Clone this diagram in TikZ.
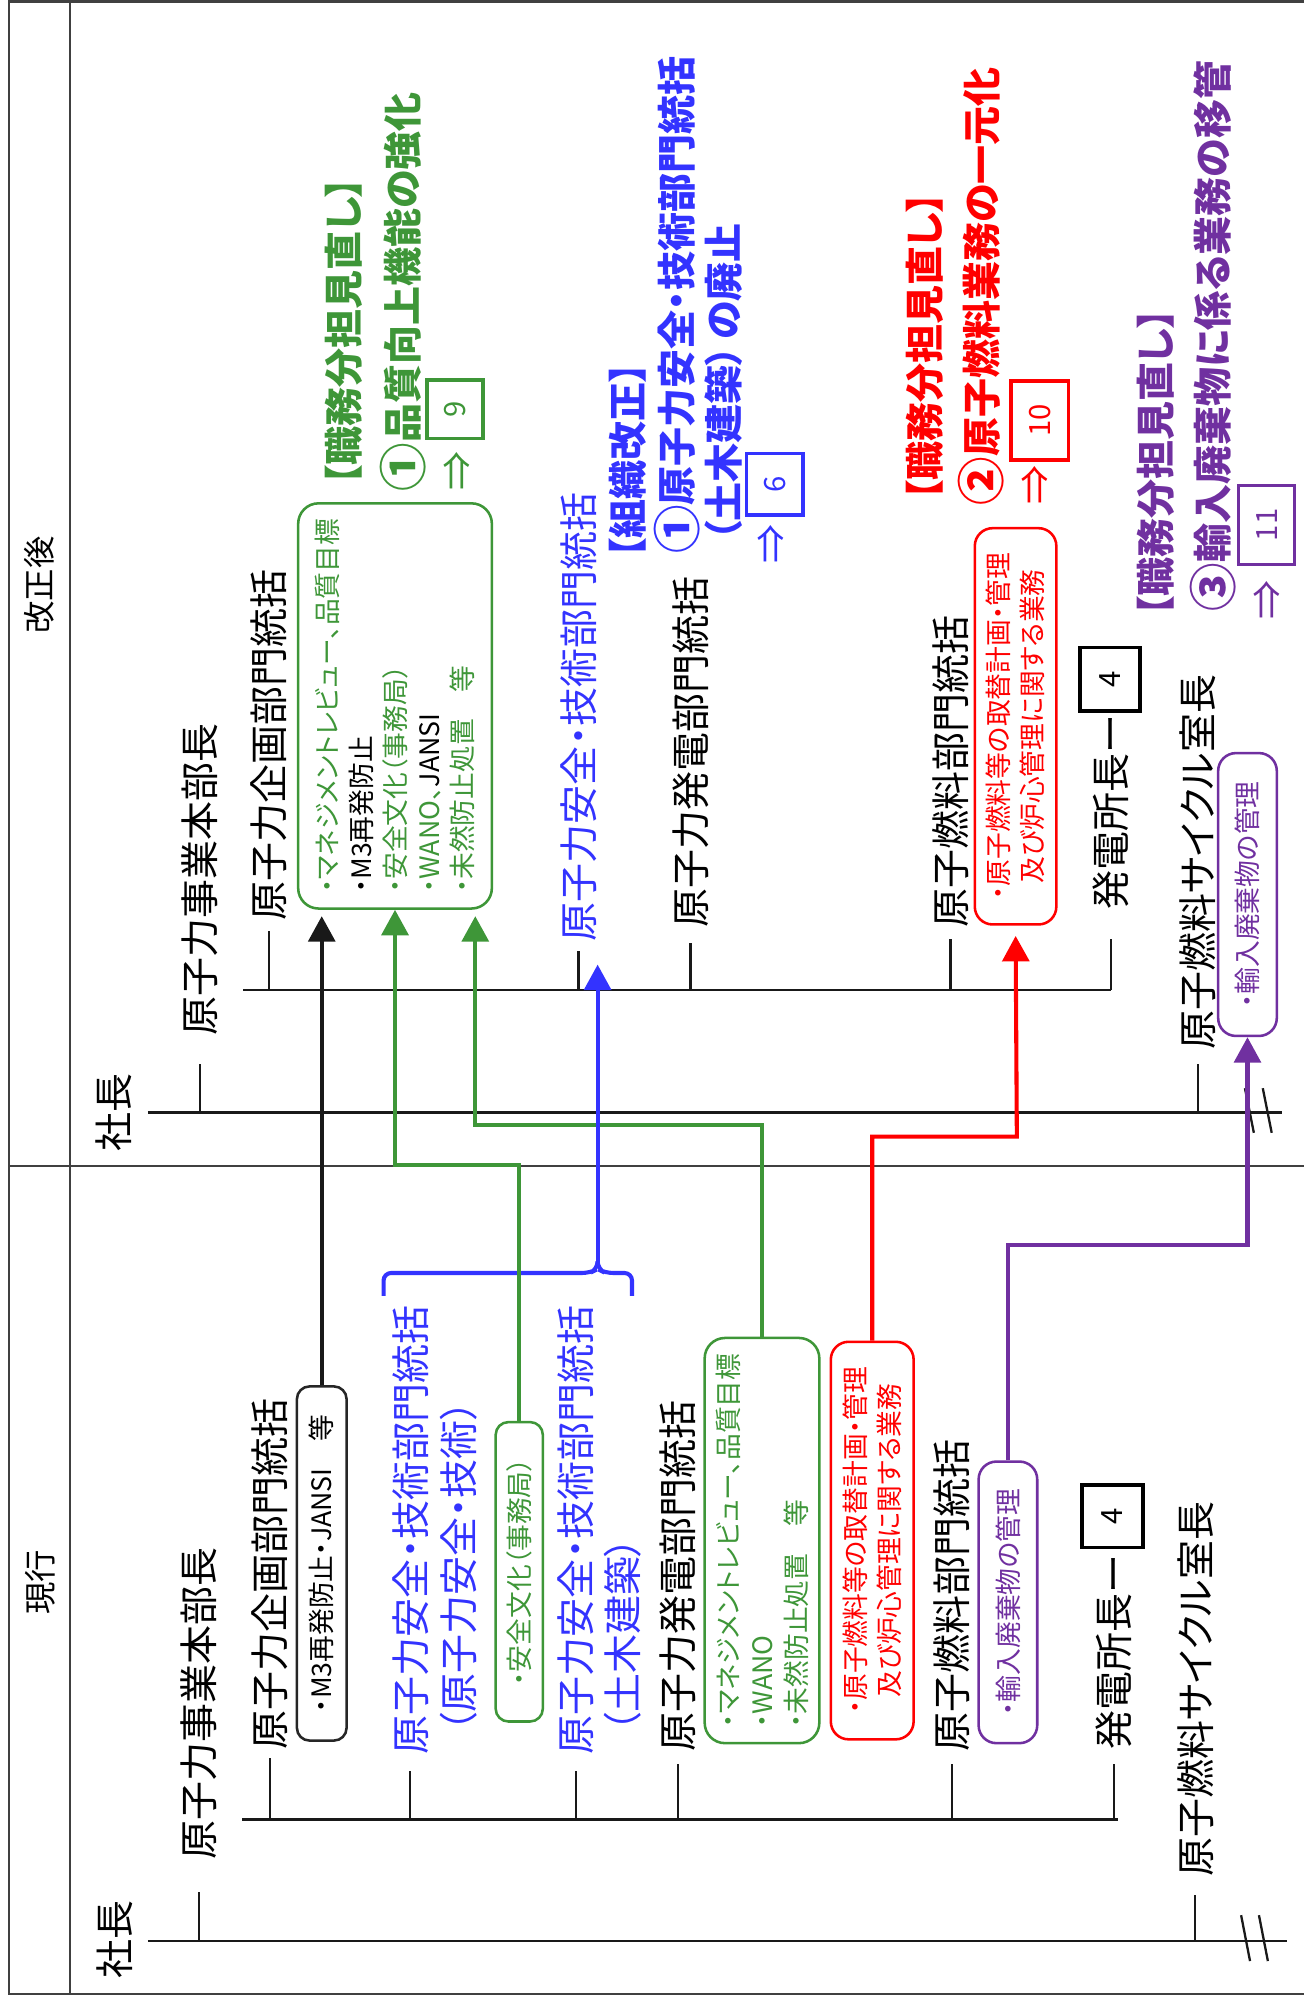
\documentclass[tikz,border=0pt]{standalone}
\usepackage{fontspec}
\setmainfont{Noto Sans CJK JP}[RawFeature=+palt]
\usetikzlibrary{arrows.meta, positioning}
\definecolor{qgreen}{RGB}{62,150,56}
\definecolor{techblue}{RGB}{51,51,255}
\definecolor{fuelred}{RGB}{255,0,0}
\definecolor{wastepurple}{RGB}{112,48,160}
\newcommand{\bignum}[1]{\raisebox{-1.4pt}{\fontsize{19}{18}\selectfont #1}}

\begin{document}
\begin{tikzpicture}[
x=0.5pt, y=-0.5pt,
frame/.style={draw=black!75, line width=1pt},
org/.style={draw=black!90, line width=0.9pt},
hdr/.style={rotate=90, inner sep=0pt, font=\fontsize{12.7}{15}\selectfont},
lbl/.style={rotate=90, anchor=west, inner sep=0pt, font=\fontsize{15.3}{18}\selectfont},
note/.style={rotate=90, anchor=west, inner sep=0pt, font=\fontsize{15.3}{18}\selectfont\bfseries},
dutybox/.style={rotate=90, draw, line width=1pt, rounded corners=7pt, inner sep=0pt,
    align=left, font=\fontsize{10.5}{13.3}\selectfont},
numbox/.style={rotate=90, draw, line width=1.4pt, inner sep=0pt, font=\fontsize{11.5}{13}\selectfont},
arrowmark/.style={rotate=90, inner sep=0pt, font=\fontsize{15.3}{18}\selectfont},
move/.style={line width=1.6pt, -{Triangle[length=10pt,width=10.5pt]}},
]
\useasboundingbox (0,0) rectangle (1023,1568);
% frame
\draw[frame] (1023,1) -- (7,1) -- (7,1565) -- (1023,1565);
\draw[frame] (7,915) -- (1023,915);
\draw[frame] (55,1) -- (55,1565);
\node[hdr] (hdrNew) at (31,459) {改正後};
\node[hdr] (hdrOld) at (32,1242) {現行};

% after the change
\coordinate (trunkNew) at (116,873);
\coordinate (endNew) at (1006,873);
\coordinate (busNew) at (191,777);
\node[lbl, anchor=center] (presNew) at (89,873) {社長};
\node[lbl] (chiefNew) at (157,813) {原子力事業本部長};
\node[lbl] (planNew) at (211,723) {原子力企画部門統括};
\node[lbl, text=techblue] (safeNew) at (454,739) {原子力安全・技術部門統括};
\node[lbl] (powerNew) at (542,728) {原子力発電部門統括};
\node[lbl] (fuelDeptNew) at (746,728) {原子燃料部門統括};
\node[lbl] (plantNew) at (872,714) {発電所長ー};
\node[numbox, minimum width=25pt, minimum height=23.5pt] (fourNew) at (871,533) {4};
\node[lbl] (cycleNew) at (940,824) {原子燃料サイクル室長};
\draw[org] (trunkNew) -- (endNew);
\draw[org] (busNew) -- (plantNew.west |- busNew);
\draw[org] (chiefNew.west |- trunkNew) -- +(0,-38);
\draw[org] (planNew.west |- busNew) -- +(0,-46);
\draw[org] (safeNew.west |- busNew) -- +(0,-31);
\draw[org] (powerNew.west |- busNew) -- +(0,-37);
\draw[org] (fuelDeptNew.west |- busNew) -- +(0,-40);
\draw[org] (plantNew.west |- busNew) -- +(0,-40);
\draw[org] (cycleNew.west |- trunkNew) -- +(0,-38);
\draw[org] (977,854) -- (984,889);
\draw[org] (991,854) -- (998,889);

\node[dutybox, draw=qgreen, rounded corners=8pt, minimum width=159pt, minimum height=76pt]
    (qaNew) at (310,554)
    {\textcolor{qgreen}{・マネジメントレビュー、品質目標}\\
     ・M3再発防止\\
     \textcolor{qgreen}{・安全文化（事務局）}\\
     \textcolor{qgreen}{・WANO、}JANSI\\
     \textcolor{qgreen}{・未然防止処置　等}};
\node[dutybox, draw=fuelred, text=fuelred, align=center, minimum width=155.5pt, minimum height=32pt]
    (fuelNew) at (797,570) {・原子燃料等の取替計画・管理\\及び炉心管理に関する業務};
\node[dutybox, draw=wastepurple, text=wastepurple, minimum width=111pt, minimum height=23pt]
    (wasteNew) at (979,702) {・輸入廃棄物の管理};

% notes
\node[note, text=qgreen] (qaHead) at (270,381) {【職務分担見直し】};
\node[note, text=qgreen] (qaItem) at (316,386) {\bignum{①}品質向上機能の強化};
\node[arrowmark, text=qgreen] (qaArrow) at (359,370) {⇒};
\node[numbox, draw=qgreen, text=qgreen, minimum width=23pt, minimum height=22pt] (qaRef) at (357,321) {9};
\node[note, text=techblue] (orgHead) at (493,438) {【組織改正】};
\node[note, text=techblue] (orgItem) at (531,435) {\bignum{①}原子力安全・技術部門統括};
\node[note, text=techblue] (orgItemB) at (568,425) {（土木建築）\,の廃止};
\node[arrowmark, text=techblue] (orgArrow) at (606,427) {⇒};
\node[numbox, draw=techblue, text=techblue, minimum width=24pt, minimum height=22pt] (orgRef) at (608,380) {6};
\node[note, text=fuelred] (fuelHead) at (726,393) {【職務分担見直し】};
\node[note, text=fuelred] (fuelItem) at (770,397) {\bignum{②}原子燃料業務の一元化};
\node[arrowmark, text=fuelred] (fuelArrow) at (813,381) {⇒};
\node[numbox, draw=fuelred, text=fuelred, minimum width=31pt, minimum height=22.5pt] (fuelRef) at (816,330) {10};
\node[note, text=wastepurple] (wasteHead) at (907,484) {【職務分担見直し】};
\node[note, text=wastepurple] (wasteItem) at (952,480) {\bignum{③}輸入廃棄物に係る業務の移管};
\node[arrowmark, text=wastepurple] (wasteArrow) at (995,471) {⇒};
\node[numbox, draw=wastepurple, text=wastepurple, minimum width=31pt, minimum height=22pt] (wasteRef) at (994,412) {11};

% current
\coordinate (trunkOld) at (116,1523);
\coordinate (endOld) at (1010,1523);
\coordinate (busOld) at (190,1428);
\node[lbl, anchor=center] (presOld) at (90,1522) {社長};
\node[lbl] (chiefOld) at (156,1460) {原子力事業本部長};
\node[lbl] (planOld) at (212,1373) {原子力企画部門統括};
\node[lbl, text=techblue] (safeOld) at (322,1377) {原子力安全・技術部門統括};
\node[lbl, text=techblue] (safeOldB) at (360,1360) {（原子力安全・技術）};
\node[lbl, text=techblue] (civilOld) at (452,1377) {原子力安全・技術部門統括};
\node[lbl, text=techblue] (civilOldB) at (489,1360) {（土木建築）};
\node[lbl] (powerOld) at (532,1375) {原子力発電部門統括};
\node[lbl] (fuelDeptOld) at (747,1375) {原子燃料部門統括};
\node[lbl] (plantOld) at (874,1373) {発電所長ー};
\node[numbox, minimum width=24.5pt, minimum height=24pt] (fourOld) at (873,1190) {4};
\node[lbl] (cycleOld) at (938,1473) {原子燃料サイクル室長};
\draw[org] (trunkOld) -- (endOld);
\draw[org] (busOld) -- (877,1428);
\draw[org] (chiefOld.west |- trunkOld) -- +(0,-38);
\draw[org] (planOld.west |- busOld) -- +(0,-48);
\draw[org] (safeOld.west |- busOld) -- +(0,-38);
\draw[org] (civilOld.west |- busOld) -- +(0,-38);
\draw[org] (powerOld.west |- busOld) -- +(0,-44);
\draw[org] (fuelDeptOld.west |- busOld) -- +(0,-44);
\draw[org] (plantOld.west |- busOld) -- +(0,-44);
\draw[org] (cycleOld.west |- trunkOld) -- +(0,-36);
\draw[org] (974,1503) -- (981,1539);
\draw[org] (988,1503) -- (995,1539);

\node[dutybox, draw=black!85, rounded corners=5pt, minimum width=139pt, minimum height=19.5pt]
    (jansiOld) at (252.5,1227) {・M3再発防止・JANSI　等};
\node[dutybox, draw=qgreen, text=qgreen, rounded corners=5pt, minimum width=117.5pt, minimum height=18.5pt]
    (cultOld) at (407.5,1233.5) {・安全文化（事務局）};
\node[dutybox, draw=qgreen, text=qgreen, rounded corners=8pt, minimum width=159pt, minimum height=45pt]
    (qaOld) at (598,1209) {・マネジメントレビュー、品質目標\\・WANO\\・未然防止処置　等};
\node[dutybox, draw=fuelred, text=fuelred, align=center, minimum width=156pt, minimum height=32.5pt]
    (fuelOld) at (684.5,1209) {・原子燃料等の取替計画・管理\\及び炉心管理に関する業務};
\node[dutybox, draw=wastepurple, text=wastepurple, minimum width=110.5pt, minimum height=23pt]
    (wasteOld) at (791,1257.5) {・輸入廃棄物の管理};

% bracket
\coordinate (brk) at (469,993);
\coordinate (blueTip) at (469,757);
\draw[techblue, line width=1.6pt, rounded corners=3pt]
    (301,1017) -- (301,999) -- (463,999) -- (469,996) -- (brk);
\draw[techblue, line width=1.6pt, rounded corners=3pt]
    (brk) -- (469,996) -- (475,999) -- (496,999) -- (496,1017);

% moves
\coordinate (greenBendA) at (310,914);
\coordinate (greenBendB) at (373,883);
\coordinate (redBend) at (798,892);
\coordinate (purpleBend) at (979,977);
\draw[move, black!90, shorten >=2.5pt] (jansiOld.east) -- (jansiOld.east |- qaNew.west);
\draw[move, qgreen] (cultOld.east) |- (greenBendA) -- (greenBendA |- qaNew.west);
\draw[move, qgreen, shorten >=2.5pt] (qaOld.east) |- (greenBendB) -- (greenBendB |- qaNew.west);
\draw[move, techblue] (brk) -- (blueTip);
\draw[move, fuelred, shorten >=4pt] (fuelOld.east) |- (redBend) -- (fuelNew.west);
\draw[move, wastepurple] (wasteOld.east) |- (purpleBend) -- (wasteNew.west);
\end{tikzpicture}
\end{document}
